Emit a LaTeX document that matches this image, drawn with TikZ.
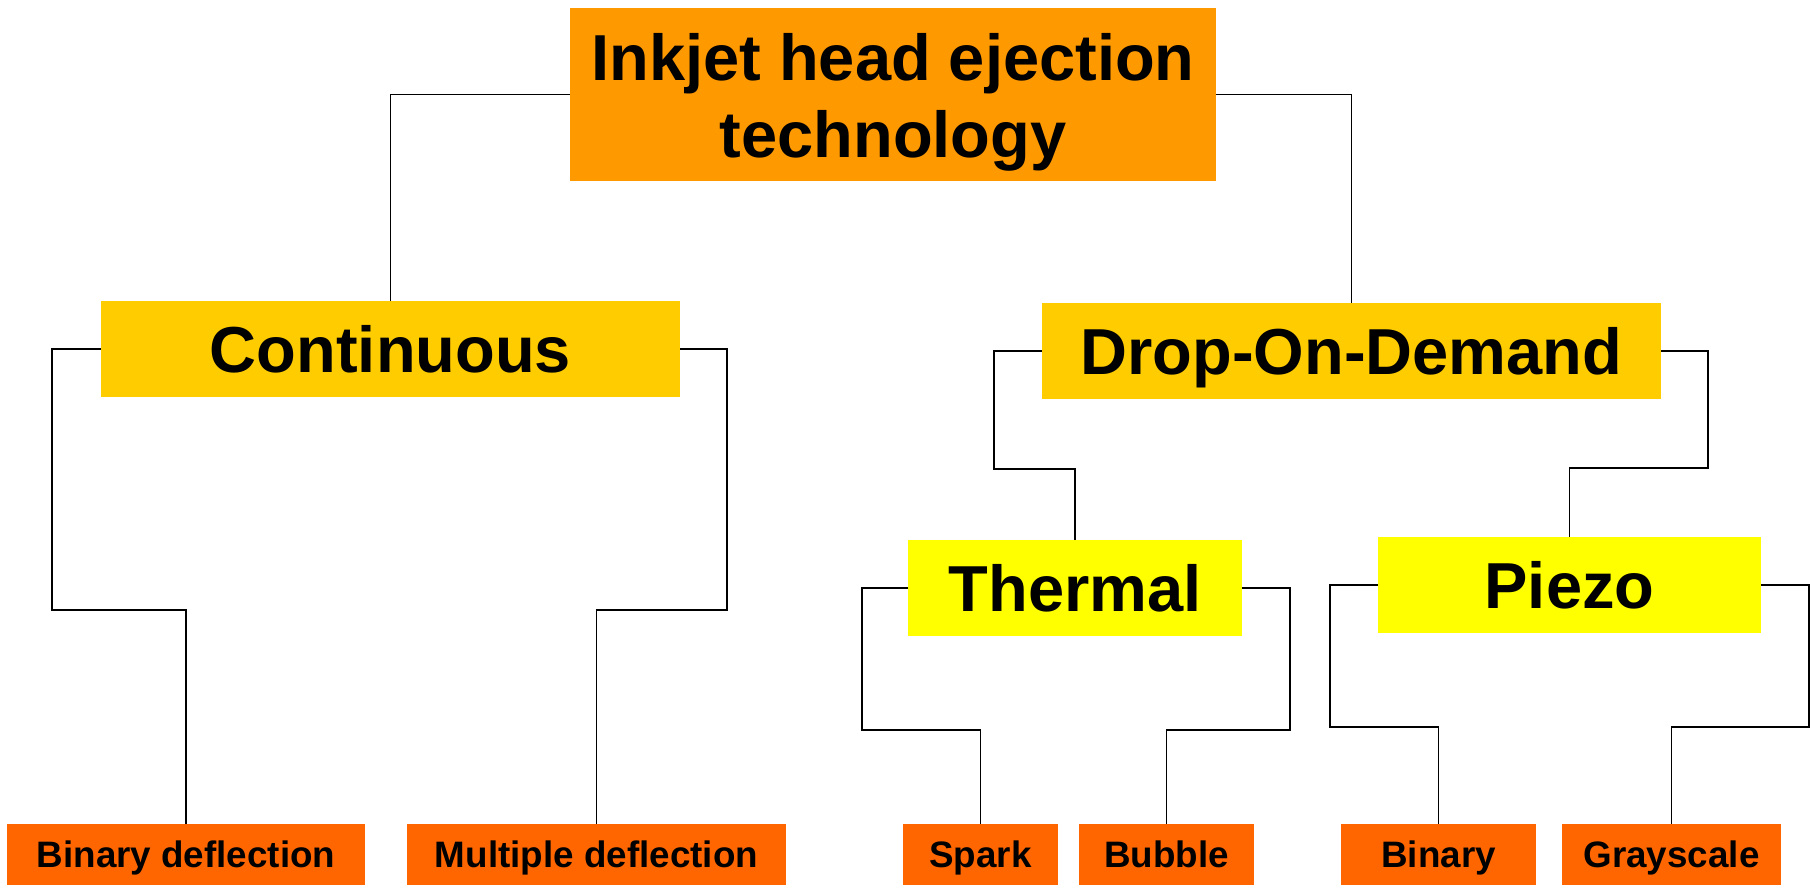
\documentclass[tikz,border=0pt]{standalone}
\usepackage{fontspec}
\setmainfont{Liberation Sans}
\definecolor{cTop}{HTML}{FF9900}
\definecolor{cMid}{HTML}{FFCC00}
\definecolor{cLow}{HTML}{FFFF00}
\definecolor{cLeaf}{HTML}{FF6600}
\begin{document}
\begin{tikzpicture}[x=0.5pt,y=-0.5pt,
  basebox/.style={inner sep=0pt, outer sep=0pt, text depth=0pt},
  bigtext/.style={font=\bfseries\fontsize{32.5}{38.5}\selectfont},
  smalltext/.style={font=\bfseries\fontsize{18.4}{22}\selectfont},
  topbox/.style={basebox, fill=cTop},
  midbox/.style={basebox, bigtext, text height=23.3pt, fill=cMid, minimum height=48pt},
  lowbox/.style={basebox, bigtext, text height=23.3pt, fill=cLow, minimum height=48pt},
  leafbox/.style={basebox, smalltext, text height=13.2pt, fill=cLeaf, minimum height=30.5pt},
  conn/.style={draw=black, line width=0.8pt}]
\useasboundingbox (0,0) rectangle (1814,885);

% top
\node[topbox, minimum width=323pt, minimum height=86.5pt] (top) at (893,94.5) {};
\node[bigtext, align=center, inner sep=0pt] (toptext) at (893,102) {Inkjet head ejection\\technology};

% level 1
\node[midbox, minimum width=289.5pt] (cont) at (390.5,349) {Continuous};
\node[midbox, minimum width=309.5pt] (dod) at (1351.5,351) {Drop-On-Demand};

% level 2
\node[lowbox, minimum width=167pt] (thermal) at (1075,588) {Thermal};
\node[lowbox, minimum width=191.5pt] (piezo) at (1569.5,585) {Piezo};

% leaves
\node[leafbox, minimum width=179pt] (bd) at (186,854.5) {Binary deflection};
\node[leafbox, minimum width=189.5pt] (md) at (596.5,854.5) {Multiple deflection};
\node[leafbox, minimum width=77.5pt] (spark) at (980.5,854.5) {Spark};
\node[leafbox, minimum width=87.5pt] (bubble) at (1166.5,854.5) {Bubble};
\node[leafbox, minimum width=97.5pt] (binary) at (1438.5,854.5) {Binary};
\node[leafbox, minimum width=109.5pt] (gray) at (1671.5,854.5) {Grayscale};

% connectors
\draw[conn] (top.west) -| (cont.north);
\draw[conn] (top.east) -| (dod.north);

\draw[conn] (cont.west) -- ++(-49,0) -- ++(0,261) -| (bd.north);
\draw[conn] (cont.east) -- ++(47,0) -- ++(0,261) -| (md.north);

\draw[conn] (dod.west) -- ++(-48,0) -- ++(0,118) -| (thermal.north);
\draw[conn] (dod.east) -- ++(47,0) -- ++(0,117) -| (piezo.north);

\draw[conn] (thermal.west) -- ++(-46,0) -- ++(0,142) -| (spark.north);
\draw[conn] (thermal.east) -- ++(48,0) -- ++(0,142) -| (bubble.north);

\draw[conn] (piezo.west) -- ++(-48,0) -- ++(0,142) -| (binary.north);
\draw[conn] (piezo.east) -- ++(48,0) -- ++(0,142) -| (gray.north);
\end{tikzpicture}
\end{document}
